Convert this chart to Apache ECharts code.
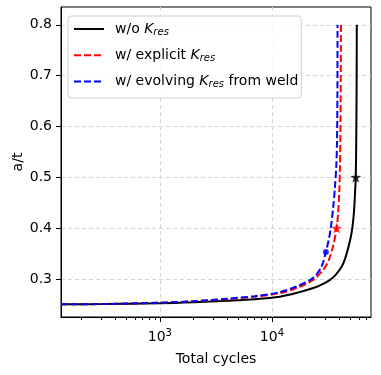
<!DOCTYPE html>
<html>
<head>
<meta charset="utf-8">
<script src="https://cdn.jsdelivr.net/npm/echarts@6/dist/echarts.min.js"></script>
<style>
  html, body { margin: 0; padding: 0; background: #fff; }
  #chart { width: 381px; height: 375px; }
</style>
</head>
<body>
<div id="chart"></div>
<script>
// crack depth ratio a/t against total cycles
const noResN = [131, 300, 1000, 2000, 4000, 7000, 11800, 17000, 23400, 28000, 33000, 37000, 41900, 45000, 48100, 50500, 52000, 53200, 54300, 55200, 56000, 56600, 57000, 57200]
const noResA = [0.25, 0.2505, 0.252, 0.254, 0.257, 0.26, 0.265, 0.273, 0.282, 0.289, 0.298, 0.308, 0.324, 0.34, 0.362, 0.382, 0.398, 0.416, 0.44, 0.47, 0.5, 0.58, 0.68, 0.8]

const explicitN = [131, 300, 1000, 2000, 4000, 7000, 11800, 16600, 23400, 28700, 31900, 35000, 37800, 39000, 39900, 40500, 41000, 41300]
const explicitA = [0.25, 0.2505, 0.253, 0.256, 0.26, 0.265, 0.272, 0.282, 0.298, 0.318, 0.335, 0.363, 0.40, 0.43, 0.47, 0.52, 0.62, 0.8]

const evolvingN = [131, 300, 1000, 2000, 4000, 7000, 11800, 17000, 23400, 27700, 30300, 32000, 33500, 35200, 36500, 37500, 38100, 38400, 38500]
const evolvingA = [0.25, 0.2505, 0.253, 0.256, 0.261, 0.266, 0.274, 0.286, 0.302, 0.324, 0.353, 0.375, 0.40, 0.44, 0.48, 0.52, 0.57, 0.66, 0.8]

// highlighted points
const noResMark = [56000, 0.5]
const explicitMark = [37800, 0.40]
const evolvingMark = [30300, 0.353]

const xMajor = [1000, 10000]
const xMinor = []
for (const dec of [100, 1000, 10000]) {
  for (let k = 2; k <= 9; k++) xMinor.push(k * dec)
}
const yTicks = [0.3, 0.4, 0.5, 0.6, 0.7, 0.8]

const FONT = 'DejaVu Sans'
const STAR = 'path://M0,-10 L2.35,-3.24 9.51,-3.09 3.8,1.24 5.88,8.09 0,4 -5.88,8.09 -3.8,1.24 -9.51,-3.09 -2.35,-3.24Z'

const zip = (xs, ys) => xs.map((x, i) => [x, ys[i]])

const names = ['w/o Kres', 'w/ explicit Kres', 'w/ evolving Kres from weld']
const legendText = {
  'w/o Kres': '{t|w/o }{k|K}{s|res}',
  'w/ explicit Kres': '{t|w/ explicit }{k|K}{s|res}',
  'w/ evolving Kres from weld': '{t|w/ evolving }{k|K}{s|res}{t| from weld}'
}

const gridLine = { show: true, lineStyle: { color: '#d6d6d6', type: [4, 3], width: 1 } }

const chart = echarts.init(document.getElementById('chart'))
chart.setOption({
  animation: false,
  textStyle: { fontFamily: FONT },
  grid: {
    left: 61, right: 10, top: 7, bottom: 58,
    outerBoundsMode: 'none',
    containLabel: false,
    show: true, borderColor: '#000', borderWidth: 1, backgroundColor: 'transparent'
  },
  // y axis title, placed by hand because the axis name would not move closer
  graphic: [{
    type: 'text',
    x: 18,
    y: 162,
    rotation: Math.PI / 2,
    style: {
      text: 'a/t',
      fontFamily: FONT,
      fontSize: 14,
      fill: '#000',
      align: 'center',
      verticalAlign: 'middle'
    }
  }],
  legend: {
    data: names,
    orient: 'vertical',
    left: 68,
    top: 16,
    itemWidth: 30,
    itemHeight: 14,
    itemGap: 10.7,
    padding: [6, 3, 8, 5],
    backgroundColor: 'rgba(255,255,255,0.8)',
    borderColor: '#d0d0d0',
    borderWidth: 1,
    borderRadius: 3,
    itemStyle: { opacity: 0 },
    formatter: name => legendText[name],
    textStyle: {
      fontFamily: FONT,
      fontSize: 14,
      color: '#000',
      padding: [0, 0, 0, 6],
      rich: {
        t: { fontFamily: FONT, fontSize: 14, color: '#000' },
        k: { fontFamily: FONT, fontSize: 14, fontStyle: 'italic', color: '#000' },
        s: { fontFamily: FONT, fontSize: 10, fontStyle: 'italic', color: '#000', padding: [7, 0, 0, 0] }
      }
    }
  },
  xAxis: [{
    type: 'log',
    min: 131,
    max: 76600,
    name: 'Total cycles',
    nameLocation: 'middle',
    nameGap: 35,
    nameTextStyle: { fontFamily: FONT, fontSize: 14, color: '#000' },
    axisLine: { lineStyle: { color: '#000', width: 1 } },
    axisTick: { customValues: xMajor, length: 5, lineStyle: { color: '#000' } },
    axisLabel: {
      customValues: xMajor,
      margin: 11,
      color: '#000',
      formatter: v => '{b|10}{e|' + Math.round(Math.log10(v)) + '}',
      rich: {
        b: { fontFamily: FONT, fontSize: 14, color: '#000' },
        e: { fontFamily: FONT, fontSize: 10, color: '#000', padding: [0, 0, 8, 0] }
      }
    },
    splitLine: gridLine
  }, {
    type: 'log',
    min: 131,
    max: 76600,
    position: 'bottom',
    axisLine: { show: false },
    axisTick: { customValues: xMinor, length: 3, lineStyle: { color: '#000' } },
    axisLabel: { show: false },
    splitLine: { show: false }
  }],
  yAxis: {
    type: 'value',
    min: 0.225,
    max: 0.835,
    axisLine: { show: true, lineStyle: { color: '#000', width: 1 } },
    axisTick: { show: true, customValues: yTicks, length: 5, lineStyle: { color: '#000' } },
    axisLabel: {
      customValues: yTicks,
      margin: 9,
      color: '#000',
      fontFamily: FONT,
      fontSize: 14,
      formatter: v => v.toFixed(1)
    },
    splitLine: gridLine
  },
  series: [{
    name: names[0],
    type: 'line',
    data: zip(noResN, noResA),
    symbol: 'none',
    smooth: 0.3,
    lineStyle: { color: '#000', width: 2 },
    itemStyle: { color: '#000' },
    z: 2
  }, {
    name: names[1],
    type: 'line',
    data: zip(explicitN, explicitA),
    symbol: 'none',
    smooth: 0.3,
    lineStyle: { color: '#ff0000', width: 2, type: [7, 3] },
    itemStyle: { color: '#ff0000' },
    z: 3
  }, {
    name: names[2],
    type: 'line',
    data: zip(evolvingN, evolvingA),
    symbol: 'none',
    smooth: 0.3,
    lineStyle: { color: '#0000ff', width: 2, type: [7, 3] },
    itemStyle: { color: '#0000ff' },
    z: 4
  }, {
    name: 'noResMark',
    type: 'scatter',
    data: [noResMark],
    symbol: STAR,
    symbolSize: 11,
    itemStyle: { color: '#000' },
    z: 5
  }, {
    name: 'explicitMark',
    type: 'scatter',
    data: [explicitMark],
    symbol: STAR,
    symbolSize: 11,
    itemStyle: { color: '#ff0000' },
    z: 5
  }, {
    name: 'evolvingMark',
    type: 'scatter',
    data: [evolvingMark],
    symbol: 'circle',
    symbolSize: 6,
    itemStyle: { color: '#0000ff' },
    z: 5
  }]
})
</script>
</body>
</html>
